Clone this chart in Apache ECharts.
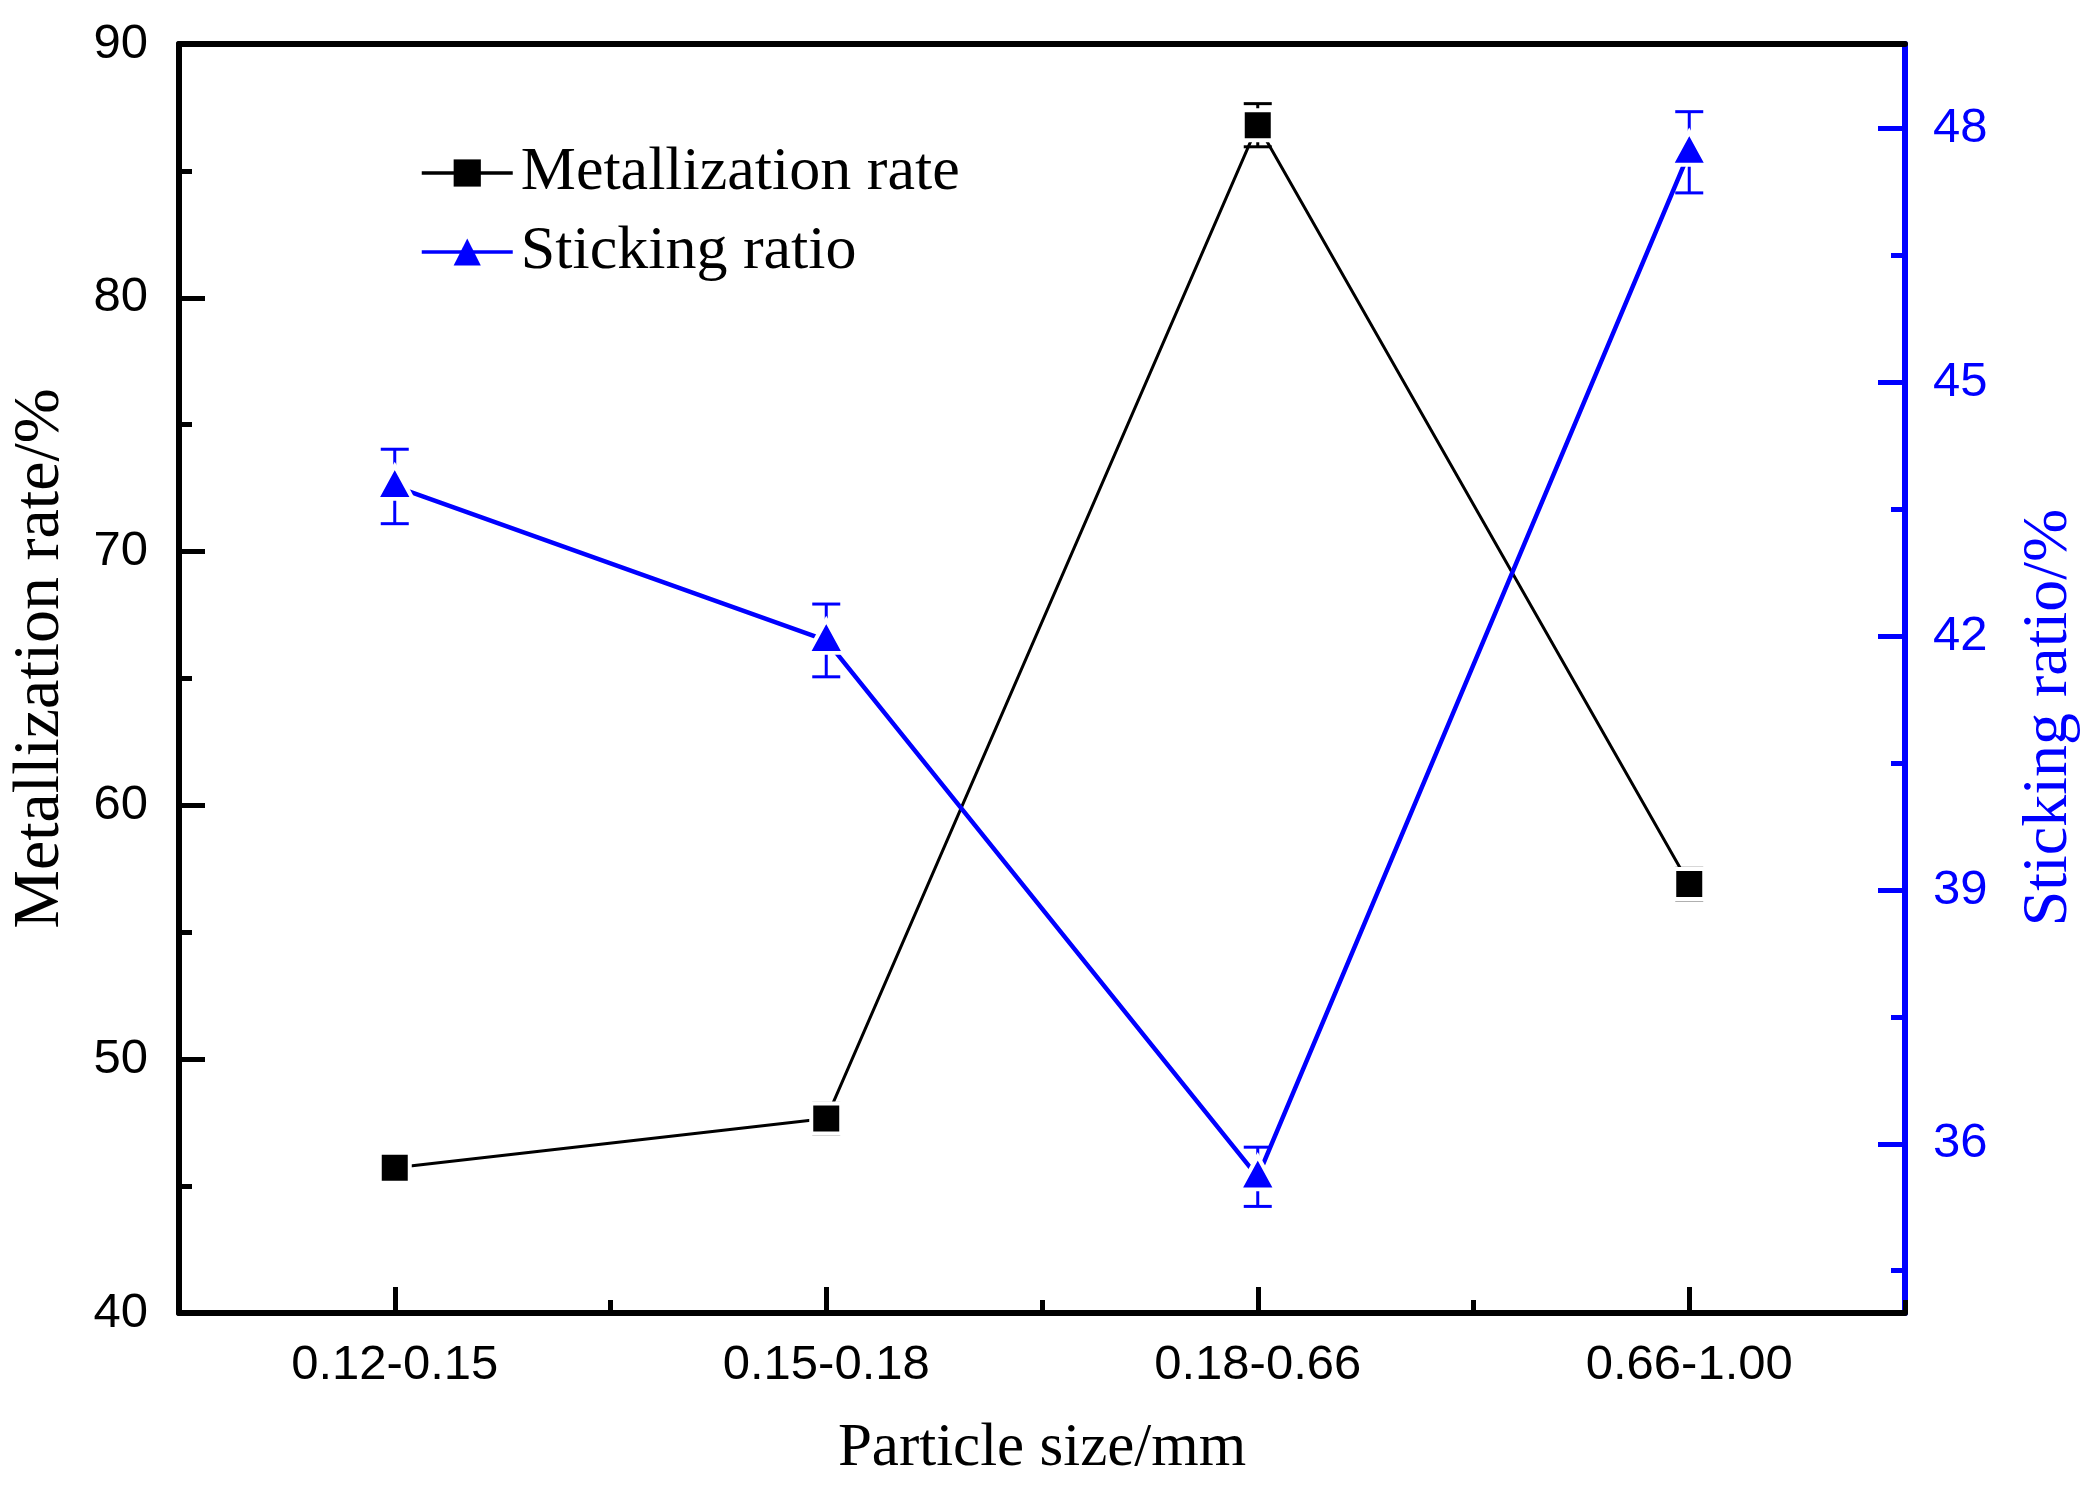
<!DOCTYPE html>
<html>
<head>
<meta charset="utf-8">
<script src="https://cdn.jsdelivr.net/npm/echarts@6/dist/echarts.min.js"></script>
<style>
html,body{margin:0;padding:0;background:#fff;}
#chart{width:2098px;height:1498px;}
</style>
</head>
<body>
<div id="chart"></div>
<script>
// ---- data ----
const categories = ['0.12-0.15', '0.15-0.18', '0.18-0.66', '0.66-1.00'];
const metallization = [45.72, 47.66, 86.8, 56.9];
const metallizationErr = [0.4, 0.6, 0.85, 0.62];
const sticking = [43.77, 41.95, 35.61, 47.72];
const stickingErr = [0.44, 0.43, 0.35, 0.48];
const leftTicks = [40, 50, 60, 70, 80, 90];
const rightMajorTicks = [36, 39, 42, 45, 48];
const rightMinorTicks = [34.5, 37.5, 40.5, 43.5, 46.5];

const BLUE = '#0000ff';
const SERIF = '"Liberation Serif", "Times New Roman", serif';
const SANS = '"Liberation Sans", Arial, sans-serif';

function errData(vals, errs) {
  return vals.map((v, i) => [i, v - errs[i], v + errs[i]]);
}
function errRender(color) {
  return function (params, api) {
    const x = api.value(0);
    const lo = api.coord([x, api.value(1)]);
    const hi = api.coord([x, api.value(2)]);
    const hw = 14;
    const style = { stroke: color, lineWidth: 3, fill: null };
    return {
      type: 'group',
      children: [
        { type: 'line', shape: { x1: lo[0], y1: lo[1], x2: hi[0], y2: hi[1] }, style },
        { type: 'line', shape: { x1: hi[0] - hw, y1: hi[1], x2: hi[0] + hw, y2: hi[1] }, style },
        { type: 'line', shape: { x1: lo[0] - hw, y1: lo[1], x2: lo[0] + hw, y2: lo[1] }, style }
      ]
    };
  };
}

const chart = echarts.init(document.getElementById('chart'));
chart.setOption({
  backgroundColor: '#fff',
  animation: false,
  grid: { left: 178, right: 193, top: 44, bottom: 185 },
  legend: {
    orient: 'vertical',
    left: 415,
    top: 137,
    itemWidth: 91,
    itemHeight: 34,
    itemGap: 17,
    itemStyle: { borderWidth: 0 },
    lineStyle: { width: 3.5 },
    textStyle: { fontFamily: SERIF, fontSize: 62, color: '#000', lineHeight: 62, padding: [0, 0, 0, 3] },
    data: ['Metallization rate', 'Sticking ratio']
  },
  xAxis: [
    {
      type: 'category',
      data: categories,
      position: 'bottom',
      boundaryGap: true,
      axisLine: { show: true, lineStyle: { color: '#000', width: 6 } },
      axisTick: { show: true, inside: true, alignWithLabel: true, length: 26, lineStyle: { color: '#000', width: 5 } },
      axisLabel: { fontFamily: SANS, fontSize: 49, color: '#000', margin: 28 },
      splitLine: { show: false },
      name: 'Particle size/mm',
      nameLocation: 'middle',
      nameGap: 105,
      nameTextStyle: { fontFamily: SERIF, fontSize: 61, color: '#000' }
    },
    {
      type: 'category',
      data: categories,
      position: 'bottom',
      boundaryGap: true,
      axisLine: { show: false },
      axisTick: { show: true, inside: true, interval: 0, length: 13, lineStyle: { color: '#000', width: 5 } },
      axisLabel: { show: false },
      splitLine: { show: false }
    },
    {
      type: 'category',
      data: categories,
      position: 'top',
      axisLine: { show: true, lineStyle: { color: '#000', width: 6 } },
      axisTick: { show: false },
      axisLabel: { show: false },
      splitLine: { show: false }
    }
  ],
  yAxis: [
    {
      type: 'value',
      position: 'left',
      min: leftTicks[0],
      max: leftTicks[leftTicks.length - 1],
      interval: 10,
      axisLine: { show: true, lineStyle: { color: '#000', width: 6 } },
      axisTick: { show: true, inside: true, length: 26, lineStyle: { color: '#000', width: 5 } },
      minorTick: { show: true, splitNumber: 2, length: 13, lineStyle: { color: '#000', width: 5 } },
      axisLabel: { fontFamily: SANS, fontSize: 49, color: '#000', margin: 31 },
      splitLine: { show: false },
      name: 'Metallization rate/%',
      nameLocation: 'middle',
      nameRotate: 90,
      nameGap: 105,
      nameTextStyle: { fontFamily: SERIF, fontSize: 66, color: '#000', padding: [0, 0, 0, 40] }
    },
    {
      type: 'value',
      position: 'right',
      min: 34,
      max: 49,
      axisLine: { show: true, lineStyle: { color: BLUE, width: 6 } },
      axisTick: { show: true, inside: true, length: 27, customValues: rightMajorTicks, lineStyle: { color: BLUE, width: 5 } },
      axisLabel: { fontFamily: SANS, fontSize: 49, color: BLUE, margin: 28, customValues: rightMajorTicks },
      splitLine: { show: false },
      name: 'Sticking ratio/%',
      nameLocation: 'middle',
      nameRotate: 90,
      nameGap: 112,
      nameTextStyle: { fontFamily: SERIF, fontSize: 64, color: BLUE, padding: [0, 78, 0, 0] }
    },
    {
      type: 'value',
      position: 'right',
      min: 34,
      max: 49,
      axisLine: { show: false },
      axisTick: { show: true, inside: true, length: 14, customValues: rightMinorTicks, lineStyle: { color: BLUE, width: 5 } },
      axisLabel: { show: false },
      splitLine: { show: false }
    }
  ],
  series: [
    {
      type: 'custom',
      name: 'mErr',
      xAxisIndex: 0,
      yAxisIndex: 0,
      z: 1,
      renderItem: errRender('#000'),
      data: errData(metallization, metallizationErr)
    },
    {
      type: 'custom',
      name: 'sErr',
      xAxisIndex: 0,
      yAxisIndex: 1,
      z: 1,
      renderItem: errRender(BLUE),
      data: errData(sticking, stickingErr)
    },
    {
      type: 'line',
      name: 'Metallization rate',
      xAxisIndex: 0,
      yAxisIndex: 0,
      z: 3,
      data: metallization,
      symbol: 'rect',
      symbolSize: 30,
      showAllSymbol: true,
      lineStyle: { color: '#000', width: 3 },
      itemStyle: { color: '#000', borderColor: '#fff', borderWidth: 4 }
    },
    {
      type: 'line',
      name: 'Sticking ratio',
      xAxisIndex: 0,
      yAxisIndex: 1,
      z: 3,
      data: sticking,
      symbol: 'triangle',
      symbolSize: [36, 33],
      symbolOffset: [0, -4],
      showAllSymbol: true,
      lineStyle: { color: BLUE, width: 4.5 },
      itemStyle: { color: BLUE, borderColor: '#fff', borderWidth: 4 }
    }
  ]
});
</script>
</body>
</html>
